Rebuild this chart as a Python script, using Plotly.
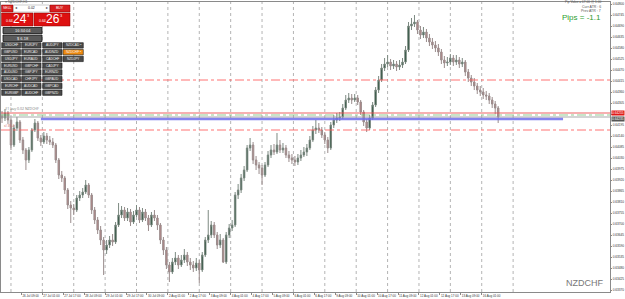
import plotly.graph_objects as go

# ---------------- data (NZDCHF) ----------------
first_open = 0.64240
closes = [0.64230,0.64255,0.64220,0.64095,0.64180,0.64210,0.64120,0.64070,0.64020,0.64070,
          0.64170,0.64205,0.64130,0.64110,0.64140,0.64120,0.64110,0.64095,0.64020,0.63945,
          0.63930,0.63870,0.63795,0.63780,0.63770,0.63830,0.63845,0.63860,0.63895,0.63845,
          0.63770,0.63720,0.63670,0.63620,0.63570,0.63595,0.63620,0.63610,0.63695,0.63745,
          0.63770,0.63730,0.63760,0.63710,0.63745,0.63770,0.63720,0.63760,0.63730,0.63695,
          0.63745,0.63730,0.63695,0.63620,0.63570,0.63495,0.63460,0.63510,0.63530,0.63495,
          0.63520,0.63545,0.63510,0.63495,0.63480,0.63505,0.63470,0.63545,0.63620,0.63645,
          0.63695,0.63645,0.63595,0.63620,0.63510,0.63645,0.63680,0.63695,0.63845,0.63870,
          0.63930,0.63970,0.64080,0.64095,0.64020,0.63995,0.63980,0.63945,0.63995,0.64045,
          0.64070,0.64060,0.64095,0.64070,0.64080,0.64045,0.64030,0.64020,0.64010,0.64030,
          0.64045,0.64060,0.64080,0.64120,0.64170,0.64180,0.64170,0.64145,0.64120,0.64080,
          0.64195,0.64220,0.64230,0.64235,0.64280,0.64320,0.64330,0.64320,0.64330,0.64310,
          0.64260,0.64210,0.64180,0.64230,0.64295,0.64370,0.64420,0.64480,0.64500,0.64510,
          0.64490,0.64500,0.64485,0.64495,0.64510,0.64570,0.64690,0.64700,0.64710,0.64670,
          0.64645,0.64660,0.64630,0.64610,0.64595,0.64580,0.64560,0.64520,0.64505,0.64510,
          0.64530,0.64510,0.64520,0.64500,0.64510,0.64460,0.64430,0.64410,0.64390,0.64370,
          0.64360,0.64345,0.64340,0.64320,0.64300,0.64280,0.64235]
highs = [0.64265,0.64275,0.64265,0.64230,0.64195,0.64235,0.64220,0.64135,0.64080,0.64085,
         0.64180,0.64225,0.64215,0.64145,0.64160,0.64155,0.64140,0.64130,0.64105,0.64030,
         0.63965,0.63940,0.63880,0.63815,0.63800,0.63845,0.63865,0.63880,0.63920,0.63905,
         0.63855,0.63785,0.63735,0.63690,0.63635,0.63620,0.63640,0.63650,0.63710,0.63805,
         0.63790,0.63785,0.63780,0.63775,0.63765,0.63795,0.63785,0.63780,0.63775,0.63745,
         0.63760,0.63770,0.63745,0.63705,0.63635,0.63585,0.63510,0.63530,0.63560,0.63545,
         0.63545,0.63575,0.63560,0.63530,0.63515,0.63530,0.63520,0.63560,0.63635,0.63770,
         0.63715,0.63710,0.63660,0.63650,0.63630,0.63660,0.63700,0.63720,0.63860,0.63900,
         0.63950,0.63990,0.64095,0.64130,0.64110,0.64040,0.64010,0.63995,0.64010,0.64065,
         0.64095,0.64100,0.64155,0.64120,0.64105,0.64095,0.64065,0.64050,0.64040,0.64050,
         0.64070,0.64085,0.64100,0.64140,0.64190,0.64220,0.64205,0.64185,0.64160,0.64135,
         0.64210,0.64245,0.64255,0.64260,0.64300,0.64345,0.64355,0.64350,0.64350,0.64345,
         0.64320,0.64270,0.64225,0.64245,0.64310,0.64385,0.64440,0.64500,0.64530,0.64545,
         0.64525,0.64520,0.64515,0.64520,0.64530,0.64590,0.64710,0.64730,0.64745,0.64720,
         0.64690,0.64685,0.64675,0.64650,0.64630,0.64615,0.64600,0.64575,0.64540,0.64535,
         0.64550,0.64545,0.64545,0.64535,0.64530,0.64520,0.64475,0.64445,0.64430,0.64405,
         0.64390,0.64380,0.64365,0.64355,0.64335,0.64315,0.64290]
lows = [0.64205,0.64215,0.64200,0.64070,0.64085,0.64165,0.64105,0.64050,0.63970,0.64005,
        0.64060,0.64160,0.64115,0.64090,0.64100,0.64100,0.64095,0.64080,0.64005,0.63925,
        0.63910,0.63850,0.63775,0.63705,0.63745,0.63760,0.63815,0.63830,0.63850,0.63830,
        0.63750,0.63700,0.63650,0.63595,0.63445,0.63550,0.63580,0.63590,0.63600,0.63685,
        0.63730,0.63715,0.63715,0.63690,0.63700,0.63735,0.63705,0.63710,0.63715,0.63665,
        0.63685,0.63715,0.63670,0.63600,0.63545,0.63475,0.63410,0.63450,0.63495,0.63475,
        0.63485,0.63505,0.63490,0.63470,0.63460,0.63465,0.63405,0.63460,0.63535,0.63605,
        0.63630,0.63630,0.63575,0.63580,0.63505,0.63500,0.63630,0.63665,0.63685,0.63825,
        0.63855,0.63915,0.63960,0.64065,0.64000,0.63970,0.63950,0.63895,0.63935,0.63985,
        0.64030,0.64045,0.64050,0.64055,0.64055,0.64030,0.64010,0.64000,0.63990,0.63995,
        0.64015,0.64035,0.64040,0.64070,0.64110,0.64150,0.64155,0.64130,0.64100,0.64055,
        0.64070,0.64180,0.64205,0.64215,0.64225,0.64270,0.64305,0.64300,0.64310,0.64295,
        0.64245,0.64190,0.64160,0.64170,0.64220,0.64285,0.64355,0.64410,0.64465,0.64485,
        0.64470,0.64475,0.64465,0.64470,0.64480,0.64500,0.64560,0.64670,0.64685,0.64650,
        0.64625,0.64630,0.64610,0.64590,0.64575,0.64560,0.64540,0.64500,0.64480,0.64490,
        0.64495,0.64490,0.64495,0.64480,0.64485,0.64440,0.64410,0.64390,0.64370,0.64350,
        0.64340,0.64325,0.64320,0.64300,0.64280,0.64250,0.64205]
opens = [first_open] + closes[:-1]
idx = list(range(len(closes)))

time_labels = ["23 Jul 2021", "26 Jul 09:00", "27 Jul 01:00", "27 Jul 17:00", "28 Jul 09:00",
               "29 Jul 01:00", "29 Jul 17:00", "30 Jul 09:00", "2 Aug 01:00", "2 Aug 17:00",
               "3 Aug 09:00", "4 Aug 01:00", "4 Aug 17:00", "5 Aug 09:00", "6 Aug 01:00",
               "6 Aug 17:00", "9 Aug 09:00", "10 Aug 01:00", "10 Aug 17:00", "11 Aug 09:00",
               "12 Aug 01:00", "12 Aug 17:00", "13 Aug 09:00", "16 Aug 01:00"]
price_ticks = [0.64800, 0.64745, 0.64690, 0.64635, 0.64580, 0.64525, 0.64470, 0.64415, 0.64360,
               0.64305, 0.64250, 0.64195, 0.64140, 0.64085, 0.64030, 0.63975, 0.63920, 0.63865,
               0.63810, 0.63755, 0.63700, 0.63645, 0.63590, 0.63535, 0.63480, 0.63425, 0.63370]

red_level = 0.64255
green_level = 0.64245
bid_level = 0.64235
blue_level = 0.64225
dash_levels = [0.64420, 0.64170]

symbols = [["USDCHF", "EURJPY", "AUDJPY", "NZDCAD"],
           ["GBPUSD", "EURCAD", "AUDNZD", "NZDCHF"],
           ["USDJPY", "EURAUD", "CADCHF", "NZDJPY"],
           ["EURUSD", "GBPCHF", "CADJPY", None],
           ["AUDUSD", "GBPJPY", "EURNZD", None],
           ["USDCAD", "CHFJPY", "GBPAUD", None],
           ["EURCHF", "AUDCAD", "GBPCAD", None],
           ["EURGBP", "AUDCHF", "GBPNZD", None]]

# ---------------- layout geometry ----------------
FW, FH = 625, 299
L, T, R, B = 1, 2, 15, 7
PW, PH = FW - L - R, FH - T - B
STEP = 2.989   # px per candle
X0 = 2.0       # px of first candle


def px(x):
    return (x - L) / PW


def py(y):
    return 1 - (y - T) / PH


fig = go.Figure()
fig.add_trace(go.Candlestick(
    x=idx, open=opens, high=highs, low=lows, close=closes,
    increasing=dict(line=dict(color="#7d8a82", width=1), fillcolor="#123d26"),
    decreasing=dict(line=dict(color="#9a8c8c", width=1), fillcolor="#b88787"),
    whiskerwidth=0, showlegend=False, hoverinfo="skip"))

shapes = []
annotations = []

# vertical dotted grid (daily)
g = 3.0
while g < 172:
    shapes.append(dict(type="line", xref="x", yref="paper", x0=g, x1=g, y0=0, y1=1,
                       line=dict(color="#b4b4b4", width=1, dash="dot"), layer="below"))
    g += 10.5

# horizontal levels
for lv in dash_levels:
    shapes.append(dict(type="line", xref="paper", yref="y", x0=0, x1=1, y0=lv, y1=lv,
                       line=dict(color="rgba(255,90,90,0.85)", width=1, dash="dashdot")))
shapes.append(dict(type="line", xref="paper", yref="y", x0=0, x1=1, y0=red_level, y1=red_level,
                   line=dict(color="rgba(235,80,80,0.9)", width=1)))
shapes.append(dict(type="line", xref="paper", yref="y", x0=0, x1=1, y0=green_level, y1=green_level,
                   line=dict(color="rgba(120,190,120,0.8)", width=1, dash="dashdot")))
shapes.append(dict(type="line", xref="paper", yref="y", x0=0, x1=1, y0=bid_level, y1=bid_level,
                   line=dict(color="rgba(160,160,160,0.9)", width=1)))
shapes.append(dict(type="line", xref="x", yref="y", x0=13.0, x1=187.7, y0=blue_level, y1=blue_level,
                   line=dict(color="rgba(110,110,235,0.85)", width=2.5)))

annotations.append(dict(xref="paper", yref="y", x=px(3), y=red_level, text="#1 buy 0.02 NZDCHF",
                        showarrow=False, xanchor="left", yanchor="bottom",
                        font=dict(size=3.5, color="#777777")))
annotations.append(dict(xref="paper", yref="y", x=px(2), y=dash_levels[1], text="sl 35.4",
                        showarrow=False, xanchor="left", yanchor="bottom",
                        font=dict(size=3.5, color="#cc6666")))

# ---------- trading panel (top-left) ----------
def rect(x0, y0, x1, y1, fill, line="#333333", lw=0.5):
    shapes.append(dict(type="rect", xref="paper", yref="paper", x0=px(x0), x1=px(x1),
                       y0=py(y1), y1=py(y0), fillcolor=fill, line=dict(color=line, width=lw)))


def text(x, y, s, size=3.5, color="white", anchor="center", bg=None):
    d = dict(xref="paper", yref="paper", x=px(x), y=py(y), text=s, showarrow=False,
             xanchor=anchor, yanchor="middle", font=dict(size=size, color=color, family="Arial"))
    if bg:
        d["bgcolor"] = bg
        d["borderpad"] = 0
    annotations.append(d)


text(3, 2.5, "▾ NZDCHF,H1", 3.5, "#666666", "left")
rect(1.5, 5, 13, 12, "#d81e1e", "#8a0000")
text(7.2, 8.5, "SELL", 3.5)
rect(13.5, 5, 49.5, 12, "#ffffff", "#999999")
text(16, 8.5, "◂", 3.5, "#444444")
text(31, 8.5, "0.02", 3.5, "#222222")
text(46.5, 8.5, "▸", 3.5, "#444444")
rect(50, 5, 70, 12, "#d81e1e", "#8a0000")
text(60, 8.5, "BUY", 3.5)
rect(1.5, 13, 33, 26, "#dd1010", "#8a0000")
rect(34, 13, 70, 26, "#dd1010", "#8a0000")
text(9, 21, "0.64", 3.5, "white")
text(20, 19.5, "24", 12, "white")
text(28.5, 16, "3", 4, "white")
text(42, 21, "0.64", 3.5, "white")
text(53, 19.5, "26", 12, "white")
text(61.5, 16, "3", 4, "white")
rect(3, 27.5, 42, 33.5, "#5a5a5a", "#111111", 0.8)
text(22.5, 30.5, "16:34:04", 4, "#eeeeee")
rect(3, 35, 42, 41.5, "#5a5a5a", "#111111", 0.8)
text(22.5, 38.2, "$ 6.18", 4, "#eeeeee")

col_x = [(1.7, 20.5), (21.7, 41), (42.7, 62), (63, 83.3)]
for r, row in enumerate(symbols):
    y0 = 42.7 + 6.75 * r
    for c, sym in enumerate(row):
        if sym is None:
            continue
        fill = "#ee8a10" if sym == "NZDCHF" else "#4a4a4a"
        rect(col_x[c][0], y0, col_x[c][1], y0 + 5.4, fill, "#1a1a1a", 0.6)
        label = sym + (" •" if c == 3 and r < 2 else "")
        text((col_x[c][0] + col_x[c][1]) / 2, y0 + 2.7, label, 3.2, "#f0f0f0")

# ---------- info text (top-right) ----------
text(603, 2.2, "Pip Value = £7.00 @ 1.00", 3.2, "#555555", "right")
text(603, 6.6, "Curr ATR : 6", 3.5, "#555555", "right")
text(603, 11.0, "Prev ATR : 7", 3.5, "#555555", "right")
text(603, 17.0, "Pips = -1.1", 8, "#2e9e2e", "right")
text(605, 283, "NZDCHF", 9, "#777777", "right")

# ---------- price boxes on the axis ----------
annotations.append(dict(xref="paper", yref="y", x=px(610.5), y=red_level + 0.00002, text="0.64255",
                        showarrow=False, xanchor="left", yanchor="middle", bgcolor="#e01818",
                        borderpad=0, font=dict(size=3.2, color="white", family="Arial")))
annotations.append(dict(xref="paper", yref="y", x=px(610.5), y=bid_level - 0.00010, text="0.64235",
                        showarrow=False, xanchor="left", yanchor="middle", bgcolor="#555555",
                        borderpad=0, font=dict(size=3.2, color="white", family="Arial")))

# tick label hidden behind the price boxes (as on the original terminal)
hidden = {0.64250}
ytext = ["" if v in hidden else "%.5f" % v for v in price_ticks]

fig.update_layout(
    width=FW, height=FH, margin=dict(l=L, r=R, t=T, b=B, autoexpand=False),
    paper_bgcolor="white", plot_bgcolor="white",
    shapes=shapes, annotations=annotations, showlegend=False,
    xaxis=dict(range=[(L - X0) / STEP, (FW - R - X0) / STEP], showgrid=False, zeroline=False,
               rangeslider=dict(visible=False), automargin=False,
               tickmode="array", tickvals=[7 * k - 0.5 for k in range(len(time_labels))],
               ticktext=time_labels, ticklabelposition="outside right", tickangle=0,
               ticks="outside", ticklen=1.5, tickcolor="#888888",
               tickfont=dict(size=3, color="#333333", family="Arial"),
               showline=True, linecolor="#8a8a8a", linewidth=1, mirror=True),
    yaxis=dict(range=[0.63360, 0.64810], side="right", showgrid=False, zeroline=False,
               automargin=False,
               tickmode="array", tickvals=price_ticks, ticktext=ytext,
               ticks="outside", ticklen=1, tickcolor="#888888",
               tickfont=dict(size=3.2, color="#333333", family="Arial"),
               showline=True, linecolor="#8a8a8a", linewidth=1, mirror=True),
)

fig.write_html("out.html")
